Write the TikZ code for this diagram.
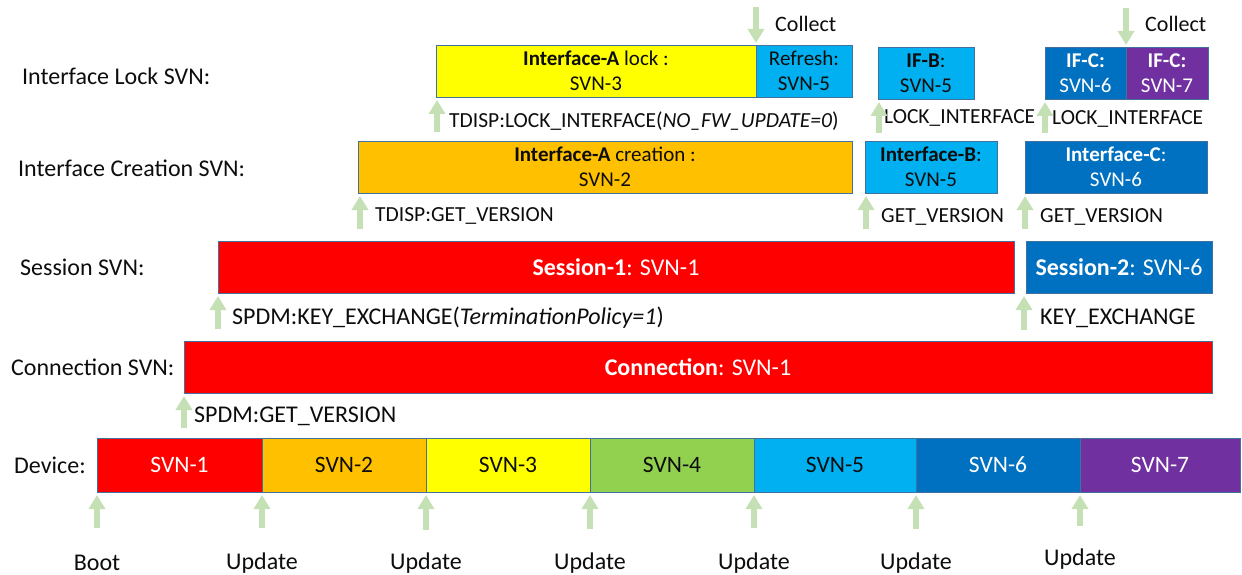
\documentclass[tikz,border=0pt]{standalone}
\usepackage{fontspec}
\setmainfont{Carlito}
\usetikzlibrary{arrows.meta}
\definecolor{cred}{HTML}{FF0000}
\definecolor{corange}{HTML}{FFC000}
\definecolor{cyellow}{HTML}{FFFF00}
\definecolor{cgreenbar}{HTML}{92D050}
\definecolor{clblue}{HTML}{00B0F0}
\definecolor{cblue}{HTML}{0070C0}
\definecolor{cpurple}{HTML}{7030A0}
\definecolor{cborder}{HTML}{41719C}
\definecolor{carrow}{HTML}{C5E0B4}
\definecolor{ctext}{HTML}{0D0D0D}
\tikzset{
  bar/.style={draw=cborder, line width=0.8pt, anchor=north west, inner sep=0pt, outer sep=0pt,
    minimum height=52pt, font=\fontsize{21}{25}\selectfont, align=center, text=ctext},
  wbar/.style={bar, text=white},
  onebar/.style={font=\fontsize{24}{28}\selectfont},
  devbar/.style={bar, minimum height=54pt, font=\fontsize{23.5}{28}\selectfont},
  lbl/.style={anchor=west, inner sep=0pt, font=\fontsize{24}{28}\selectfont, text=ctext},
  slbl/.style={lbl, font=\fontsize{21.5}{26}\selectfont},
  clbl/.style={lbl, font=\fontsize{22}{26}\selectfont},
  blbl/.style={anchor=center, inner sep=0pt, font=\fontsize{24}{28}\selectfont, text=ctext},
  garrow/.style={draw=carrow, line width=6pt, -{Triangle[width=16pt,length=14pt]}}
}
\begin{document}
\begin{tikzpicture}[x=1pt,y=-1pt]
\useasboundingbox (0,0) rectangle (1242,575);

% Device row
\node[devbar, fill=cred, text=white, minimum width=165pt] (d1) at (97,438) {SVN-1};
\node[devbar, fill=corange, minimum width=164pt] (d2) at (262,438) {SVN-2};
\node[devbar, fill=cyellow, minimum width=164pt] (d3) at (426,438) {SVN-3};
\node[devbar, fill=cgreenbar, minimum width=164pt] (d4) at (590,438) {SVN-4};
\node[devbar, fill=clblue, minimum width=162pt] (d5) at (754,438) {SVN-5};
\node[devbar, fill=cblue, text=white, minimum width=164pt] (d6) at (916,438) {SVN-6};
\node[devbar, fill=cpurple, text=white, minimum width=160pt] (d7) at (1080,438) {SVN-7};

% Connection row
\node[wbar, onebar, fill=cred, minimum width=1028pt] (conn) at (184,341) {\textbf{Connection}: SVN-1};

% Session row
\node[wbar, onebar, fill=cred, minimum width=796pt] (s1) at (218,241) {\textbf{Session-1}: SVN-1};
\node[wbar, onebar, fill=cblue, minimum width=186pt] (s2) at (1026,241) {\textbf{Session-2}: SVN-6};

% Interface creation row
\node[bar, fill=corange, minimum width=494pt] (ia) at (358,141) {\textbf{Interface-A} creation :\\SVN-2};
\node[bar, fill=clblue, minimum width=132pt] (ib) at (865,141) {\textbf{Interface-B}:\\SVN-5};
\node[wbar, fill=cblue, minimum width=182pt] (ic) at (1025,141) {\textbf{Interface-C}:\\SVN-6};

% Interface lock row
\node[bar, fill=cyellow, minimum width=320pt] (la) at (436,45) {\textbf{Interface-A} lock :\\SVN-3};
\node[bar, fill=clblue, minimum width=96pt] (lr) at (756,45) {Refresh:\\SVN-5};
\node[bar, fill=clblue, minimum width=96pt] (lb) at (878,47) {\textbf{IF-B}:\\SVN-5};
\node[wbar, fill=cblue, minimum width=81pt] (lc1) at (1045,47) {\textbf{IF-C:}\\SVN-6};
\node[wbar, fill=cpurple, minimum width=82pt] (lc2) at (1126,47) {\textbf{IF-C:}\\SVN-7};

% Row labels
\node[lbl] (rl1) at (22,76) {Interface Lock SVN:};
\node[lbl] (rl2) at (18,168) {Interface Creation SVN:};
\node[lbl] (rl3) at (20,267) {Session SVN:};
\node[lbl] (rl4) at (11,367) {Connection SVN:};
\node[lbl] (rl5) at (14,465) {Device:};

% Event labels
\node[clbl] (tc1) at (775,24) {Collect};
\node[clbl] (tc2) at (1145,24) {Collect};
\node[slbl] (t1) at (449,121) {TDISP:LOCK\_INTERFACE(\textit{NO\_FW\_UPDATE=0})};
\node[slbl] (t2) at (884,118) {LOCK\_INTERFACE};
\node[slbl] (t3) at (1052,119) {LOCK\_INTERFACE};
\node[slbl] (t4) at (375,216) {TDISP:GET\_VERSION};
\node[slbl] (t5) at (881,217) {GET\_VERSION};
\node[slbl] (t6) at (1040,217) {GET\_VERSION};
\node[lbl] (t7) at (232,318) {SPDM:KEY\_EXCHANGE(\textit{TerminationPolicy=1})};
\node[lbl] (t8) at (1040,318) {KEY\_EXCHANGE};
\node[lbl] (t9) at (194,416) {SPDM:GET\_VERSION};

% Bottom labels
\node[blbl] (b1) at (97,563) {Boot};
\node[blbl] (b2) at (262,563) {Update};
\node[blbl] (b3) at (426,563) {Update};
\node[blbl] (b4) at (590,563) {Update};
\node[blbl] (b5) at (754,563) {Update};
\node[blbl] (b6) at (916,563) {Update};
\node[blbl] (b7) at (1080,559) {Update};

% Device arrows
\coordinate (a1) at (97,528);
\coordinate (a2) at (262,528);
\coordinate (a3) at (426,530);
\coordinate (a4) at (590,529);
\coordinate (a5) at (754,528);
\coordinate (a6) at (916,529);
\coordinate (a7) at (1080,526);
\draw[garrow] (a1) -- ([yshift=-3pt]d1.south west);
\draw[garrow] (a2) -- ([yshift=-3pt]d2.south west);
\draw[garrow] (a3) -- ([yshift=-3pt]d3.south west);
\draw[garrow] (a4) -- ([yshift=-3pt]d4.south west);
\draw[garrow] (a5) -- ([yshift=-3pt]d5.south west);
\draw[garrow] (a6) -- ([yshift=-3pt]d6.south west);
\draw[garrow] (a7) -- ([yshift=-3pt]d7.south west);

% Row arrows
\coordinate (ac) at (184,428);
\draw[garrow] (ac) -- ([yshift=-3pt]conn.south west);
\coordinate (as1) at (218,329);
\draw[garrow] (as1) -- ([yshift=-3pt]s1.south west);
\coordinate (as2) at (1024,330);
\draw[garrow] (as2) -- ([xshift=-2pt,yshift=-3pt]s2.south west);
\coordinate (aia) at (360,229);
\draw[garrow] (aia) -- ([xshift=2pt,yshift=-3pt]ia.south west);
\coordinate (aib) at (866,229);
\draw[garrow] (aib) -- ([xshift=1pt,yshift=-3pt]ib.south west);
\coordinate (aic) at (1025,229);
\draw[garrow] (aic) -- ([yshift=-3pt]ic.south west);
\coordinate (ala) at (437,132);
\draw[garrow] (ala) -- ([xshift=1pt,yshift=-3pt]la.south west);
\coordinate (alb) at (879,133);
\draw[garrow] (alb) -- ([xshift=1pt,yshift=-3pt]lb.south west);
\coordinate (alc) at (1045,133);
\draw[garrow] (alc) -- ([yshift=-3pt]lc1.south west);

% Collect arrows
\coordinate (cc1) at (756,7);
\draw[garrow] (cc1) -- ([yshift=2pt]lr.north west);
\coordinate (cc2) at (1126,8);
\draw[garrow] (cc2) -- ([yshift=2pt]lc2.north west);
\end{tikzpicture}
\end{document}
